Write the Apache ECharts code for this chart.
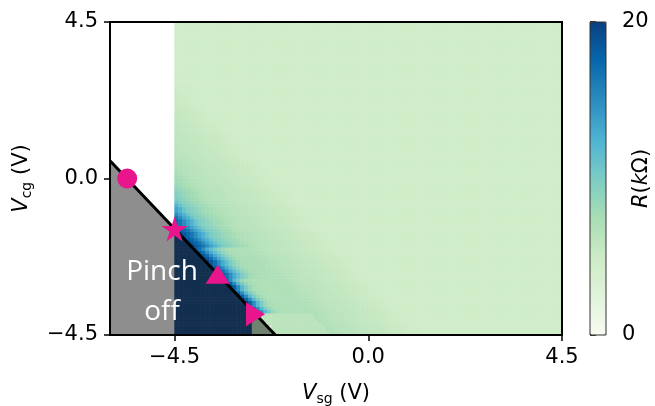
<!DOCTYPE html>
<html>
<head>
<meta charset="utf-8">
<script src="https://cdn.jsdelivr.net/npm/echarts@6/dist/echarts.min.js"></script>
<style>
html,body{margin:0;padding:0;background:#fff;}
#chart{width:655px;height:406px;}
</style>
</head>
<body>
<div id="chart"></div>
<script>
// ---------------- data ----------------
const xTicks = [-4.5, 0.0, 4.5];          // V_sg tick labels
const yTicks = [-4.5, 0.0, 4.5];          // V_cg tick labels
const cbarTicks = [0, 20];                // colour bar ticks
const xRange = [-6, 4.5];                 // V_sg axis span
const yRange = [-4.5, 4.5];               // V_cg axis span
const mapX = [-4.5, 4.5];                 // measured V_sg span of the map
const mapY = [-4.5, 4.5];                 // measured V_cg span of the map
const nCols = 100, nRows = 100;           // map resolution
// pinch-off line (end points, V_sg, V_cg)
const lineX = [-6.0, -2.16];
const lineY = [0.51, -4.5];
// the map's saturated edge sits this far (V) right of the drawn line
const edgeShift = 0.05;
// right limit of the saturated region at the bottom rows
const pinchCutX = -2.66;
// resistance (kOhm) of the first cells right of the pinch-off edge, per row band
const headUpper = [18.5, 17.5, 16.5, 15, 13.5, 12.5, 11, 10, 9.5, 9, 8.5, 8, 7.8, 7.5];
const headMid   = [18.5, 17, 15, 13, 11.5, 10, 9, 8, 7.5, 7.3, 7.2, 7.2, 7.1, 7.1];
const headLower = [18, 15, 12, 10, 8.5, 7.5, 7.2, 7, 7, 7, 7, 7, 7, 7];
const headBottom = [6.2, 6.2, 6.2, 6.2, 6.2, 6.2, 6.2, 6.2, 6.2, 6.2, 6.2, 6.2, 6.2, 6.2];
// common tail of all rows (cells further right)
const tail = [7, 6.8, 6.6, 6.5, 6.4, 6.3, 6.2, 6.1, 6, 6, 5.9, 5.8, 5.7, 5.6, 5.5, 5.4, 5.3, 5.2, 5.1, 5, 4.9, 4.8, 4.7, 4.6];
const bandEdges = [-2.0, -2.9];           // V_cg where profile bands change
const pinchValue = 20;                    // inside pinch-off
const cutValue = 5.8;                     // under the line, right of pinchCutX
const farValue = 4.5;                     // open-channel background
// markers
const markerX = [-5.6, -4.5, -3.5, -2.62];
const markerY = [0.0, -1.45, -2.75, -3.9];
const markerKind = ['circle', 'star', 'up', 'right'];
const cmap = ['#f7fcf0','#e0f3db','#ccebc5','#a8ddb5','#7bccc4','#4eb3d3','#2b8cbe','#0868ac','#084081'];

// ---------------- build the map table ----------------
const dx = (mapX[1]-mapX[0])/nCols, dy = (mapY[1]-mapY[0])/nRows;
const colCats = [], rowCats = [];
for (let i=0;i<nCols;i++) colCats.push((mapX[0]+dx*(i+0.5)).toFixed(3));
for (let j=0;j<nRows;j++) rowCats.push((mapY[0]+dy*(j+0.5)).toFixed(3));
function lineXAt(y){ return lineX[0] + (y-lineY[0])*(lineX[1]-lineX[0])/(lineY[1]-lineY[0]); }
function lookup(head, k){
  if (k < head.length) return head[k];
  k -= head.length;
  return k < tail.length ? tail[k] : farValue;
}
const cells = [];
for (let j=0;j<nRows;j++){
  const y = +rowCats[j];
  const xl = lineXAt(y);
  const xb = xl + edgeShift;
  const bottomRow = xl > pinchCutX;
  const head = bottomRow ? headBottom : (y >= bandEdges[0] ? headUpper : (y >= bandEdges[1] ? headMid : headLower));
  for (let i=0;i<nCols;i++){
    const x = +colCats[i];
    let v;
    if (bottomRow) {
      if (x < pinchCutX) v = pinchValue;
      else if (x < xl) v = cutValue;
      else v = lookup(head, Math.floor((x-xb)/dx));
    } else if (x < xb) v = pinchValue;
    else v = lookup(head, Math.floor((x-xb)/dx));
    cells.push([i, j, v]);
  }
}

const starPath = 'path://M50,0 L61.2,34.5 L97.6,34.5 L68.2,55.9 L79.4,90.5 L50,69.1 L20.6,90.5 L31.8,55.9 L2.4,34.5 L38.8,34.5 Z';
const magenta = '#e8158c';
const markerData = markerX.map((x,i)=>{
  const k = markerKind[i];
  let sym = 'circle', size = 20, rot = 0;
  if (k==='star'){ sym = starPath; size = [26,25]; }
  if (k==='up'){ sym = 'triangle'; size = [24,19]; }
  if (k==='right'){ sym = 'triangle'; size = [24,19]; rot = -90; }
  return {value:[x, markerY[i]], symbol:sym, symbolSize:size, symbolRotate:rot};
});

const fmt = v => (v<0?'\u2212':'') + Math.abs(v).toFixed(1);
const font = 'DejaVu Sans';
const FS = 21;
const G = {left:110, top:22, width:452, height:313};
const pxPerV = G.width/(xRange[1]-xRange[0]);
const titleRich = {
  i:{fontFamily:font,fontSize:FS,fontStyle:'italic',color:'#000'},
  s:{fontFamily:font,fontSize:14,color:'#000',padding:[10,0,0,0]},
  n:{fontFamily:font,fontSize:FS,color:'#000'}
};

const chart = echarts.init(document.getElementById('chart'), null, {renderer:'canvas'});
chart.setOption({
  animation:false,
  backgroundColor:'#fff',
  grid:[
    {left:G.left, top:G.top, width:G.width, height:G.height, containLabel:false, outerBoundsMode:'none'},
    {left:G.left+(mapX[0]-xRange[0])*pxPerV, top:G.top, width:(mapX[1]-mapX[0])*pxPerV, height:G.height, containLabel:false, outerBoundsMode:'none'},
    {left:590, top:22, width:16, height:313, containLabel:false, outerBoundsMode:'none'}
  ],
  xAxis:[
    {gridIndex:0, type:'value', min:xRange[0], max:xRange[1], splitLine:{show:false},
     axisLine:{onZero:false, lineStyle:{color:'#000', width:2}},
     axisTick:{customValues:xTicks, length:6, lineStyle:{color:'#000', width:1.5}},
     axisLabel:{customValues:xTicks, formatter:fmt, fontFamily:font, fontSize:FS, color:'#000', margin:12, hideOverlap:false},
     name:'{i|V}{s|sg}{n| (V)}', nameLocation:'middle', nameGap:47, nameMoveOverlap:false,
     nameTextStyle:{rich:titleRich}},
    {gridIndex:1, type:'category', data:colCats, show:false},
    {gridIndex:2, type:'value', min:0, max:1, show:false}
  ],
  yAxis:[
    {gridIndex:0, type:'value', min:yRange[0], max:yRange[1], splitLine:{show:false},
     axisLine:{onZero:false, lineStyle:{color:'#000', width:2}},
     axisTick:{customValues:yTicks, length:6, lineStyle:{color:'#000', width:1.5}},
     axisLabel:{customValues:yTicks, formatter:fmt, fontFamily:font, fontSize:FS, color:'#000', margin:12, hideOverlap:false},
     name:'{i|V}{s|cg}{n| (V)}', nameLocation:'middle', nameGap:76, nameRotate:90, nameMoveOverlap:false,
     nameTextStyle:{rich:titleRich}},
    {gridIndex:1, type:'category', data:rowCats, show:false},
    {gridIndex:2, type:'value', min:cbarTicks[0], max:cbarTicks[1], position:'right',
     splitLine:{show:false}, axisLine:{show:false},
     axisTick:{show:true, length:6, lineStyle:{color:'#000', width:1.5}, customValues:cbarTicks},
     axisLabel:{customValues:cbarTicks, fontFamily:font, fontSize:FS, color:'#000', margin:16, hideOverlap:false},
     name:'{i|R}{n|(}{i|k}{n|Ω)}', nameLocation:'middle', nameGap:25, nameRotate:90, nameMoveOverlap:false,
     nameTextStyle:{rich:titleRich}}
  ],
  visualMap:[{
    type:'continuous', min:0, max:20, seriesIndex:0, calculable:false, show:true,
    orient:'vertical', left:590, top:22, itemWidth:16, itemHeight:313, padding:0,
    text:null, showLabel:false, inRange:{color:cmap}, outOfRange:{color:cmap[8]}
  }],
  graphic:[
    {type:'rect', z:100, silent:true, shape:{x:G.left, y:G.top, width:G.width, height:G.height},
     style:{fill:'none', stroke:'#000', lineWidth:2}},
    {type:'rect', z:100, silent:true, shape:{x:590, y:22, width:16, height:313},
     style:{fill:'none', stroke:'#333', lineWidth:1}},
    {type:'text', z:100, silent:true, x:162, y:292,
     style:{text:'Pinch\noff', fill:'#fff', font:'28px "Open Sans"', textAlign:'center', textVerticalAlign:'middle', lineHeight:40}}
  ],
  series:[
    {type:'heatmap', xAxisIndex:1, yAxisIndex:1, data:cells, z:1, progressive:0,
     itemStyle:{borderWidth:0}, emphasis:{disabled:true}},
    {type:'line', xAxisIndex:0, yAxisIndex:0, z:3, symbol:'none',
     data:lineX.map((x,i)=>[x, lineY[i]]),
     lineStyle:{color:'#000', width:3},
     areaStyle:{origin:'start', color:'rgba(30,30,30,0.5)', opacity:1}},
    {type:'scatter', xAxisIndex:0, yAxisIndex:0, z:4, data:markerData,
     itemStyle:{color:magenta, opacity:1}}
  ]
});
</script>
</body>
</html>
